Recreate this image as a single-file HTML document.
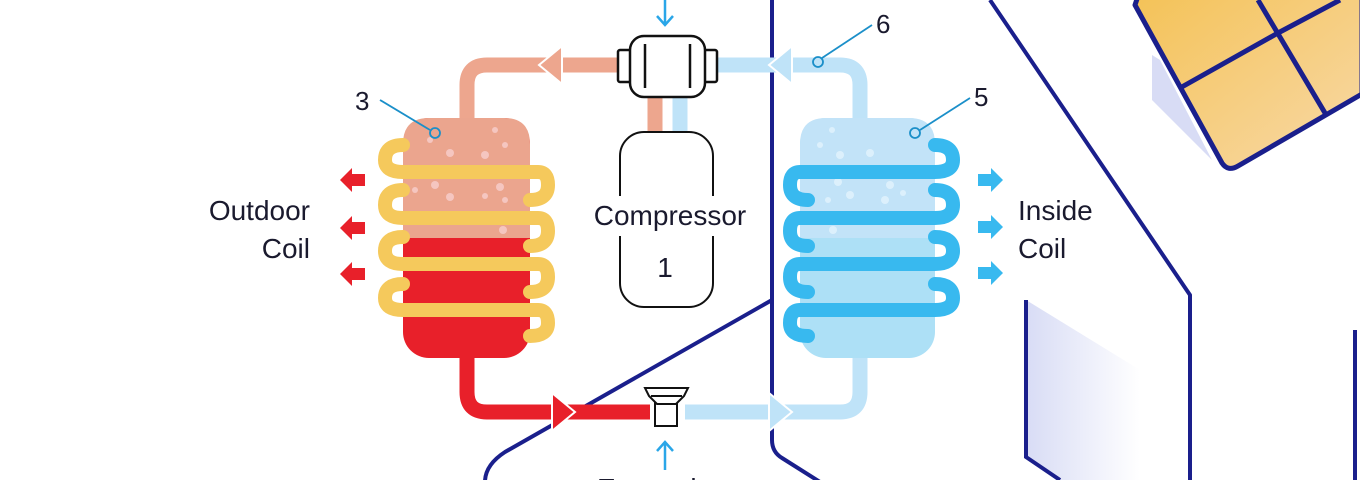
<!DOCTYPE html>
<html><head><meta charset="utf-8"><style>
html,body{margin:0;padding:0;background:#fff;width:1360px;height:480px;overflow:hidden}
text{font-family:"Liberation Sans",sans-serif;fill:#1a1a2e}
</style></head><body>
<svg width="1360" height="480" viewBox="0 0 1360 480" xmlns="http://www.w3.org/2000/svg">
<defs>
<linearGradient id="pg" x1="0" y1="0" x2="1" y2="0"><stop offset="0" stop-color="#d8dcf5"/><stop offset="1" stop-color="#fff"/></linearGradient>
<linearGradient id="sg" x1="0" y1="0" x2="1" y2="1"><stop offset="0" stop-color="#f4c256"/><stop offset="1" stop-color="#f8d9a8"/></linearGradient>
</defs>
<g fill="none" stroke="#1a1f8c" stroke-width="4" stroke-linejoin="round">
<path d="M772 0 V440 Q772 452 782 458 L820 482"/>
<path d="M772 300 L505 452 Q485 465 485 482"/>
<path d="M990 0 L1190 295 V482"/>
<path d="M1355 330 V482"/>
</g>
<path d="M1026 300 L1140 370 V480 L1060 480 L1026 457 Z" fill="url(#pg)"/>
<path d="M1026 300 V457 L1060 480" fill="none" stroke="#1a1f8c" stroke-width="4"/>
<polygon points="1152,55 1152,100 1212,160 1160,60" fill="#d8dcf5"/>
<path d="M1135 5 L1222 163 Q1228 172 1238 166 L1362 94 L1362 -10 L1140 -10 Z" fill="url(#sg)" stroke="#1a1f8c" stroke-width="5" stroke-linejoin="round"/>
<path d="M1258 0 L1325 113 M1180 88 L1278 33 L1340 0" stroke="#1a1f8c" stroke-width="5" fill="none"/>
<g fill="none" stroke-width="15" stroke-linejoin="round">
<path d="M467 120 V85 Q467 65 487 65 H620" stroke="#eda68e"/>
<path d="M717 65 H840 Q860 65 860 85 V120" stroke="#bfe3f8"/>
<path d="M655 98 V133" stroke="#eda68e"/>
<path d="M680 98 V133" stroke="#bfe3f8"/>
<path d="M467 355 V392 Q467 412 487 412 H650" stroke="#e8202a"/>
<path d="M685 412 H840 Q860 412 860 392 V355" stroke="#bfe3f8"/>
</g>
<polygon points="539,65 562,46 562,84" fill="#eda68e" stroke="#fff" stroke-width="2"/>
<polygon points="769,65 792,46 792,84" fill="#bfe3f8" stroke="#fff" stroke-width="2"/>
<polygon points="575,412 552,393 552,431" fill="#e8202a" stroke="#fff" stroke-width="2"/>
<polygon points="792,412 769,393 769,431" fill="#bfe3f8" stroke="#fff" stroke-width="2"/>
<rect x="403" y="118" width="127" height="240" rx="26" fill="#e8202a"/>
<path d="M403 238 V144 Q403 118 429 118 H504 Q530 118 530 144 V238 Z" fill="#eba58e"/>
<g fill="#f5c6c0"><circle cx="450" cy="153" r="4"/><circle cx="485" cy="155" r="4"/><circle cx="495" cy="130" r="3"/><circle cx="505" cy="145" r="3"/><circle cx="415" cy="190" r="3"/><circle cx="435" cy="185" r="4"/><circle cx="450" cy="197" r="4"/><circle cx="485" cy="196" r="3"/><circle cx="500" cy="187" r="4"/><circle cx="505" cy="200" r="3"/><circle cx="503" cy="230" r="4"/><circle cx="430" cy="140" r="3"/></g>
<g fill="none" stroke="#f5c95c" stroke-width="14" stroke-linecap="round">
<path d="M403 145 Q385 145 385 160 Q385 172 403 172 H538 Q548 172 548 185 Q548 200 530 200"/>
<path d="M403 190 Q385 190 385 205 Q385 218 403 218 H538 Q548 218 548 231 Q548 246 530 246"/>
<path d="M403 237 Q385 237 385 251 Q385 264 403 264 H538 Q548 264 548 277 Q548 292 530 292"/>
<path d="M403 284 Q385 284 385 298 Q385 310 403 310 H538 Q548 310 548 323 Q548 336 530 336"/>
</g>
<rect x="800" y="118" width="135" height="240" rx="26" fill="#ade0f6"/>
<path d="M800 238 V144 Q800 118 826 118 H909 Q935 118 935 144 V238 Z" fill="#c2e3f8"/>
<g fill="#dcf0fc"><circle cx="832" cy="130" r="3"/><circle cx="820" cy="145" r="3"/><circle cx="840" cy="155" r="4"/><circle cx="870" cy="153" r="4"/><circle cx="838" cy="182" r="4"/><circle cx="850" cy="195" r="4"/><circle cx="828" cy="200" r="3"/><circle cx="890" cy="185" r="4"/><circle cx="903" cy="193" r="3"/><circle cx="885" cy="200" r="4"/><circle cx="833" cy="230" r="4"/></g>
<g fill="none" stroke="#38b9ef" stroke-width="14" stroke-linecap="round">
<path d="M935 145 Q953 145 953 160 Q953 172 935 172 H800 Q790 172 790 185 Q790 200 808 200"/>
<path d="M935 190 Q953 190 953 205 Q953 218 935 218 H800 Q790 218 790 231 Q790 246 808 246"/>
<path d="M935 237 Q953 237 953 251 Q953 264 935 264 H800 Q790 264 790 277 Q790 292 808 292"/>
<path d="M935 284 Q953 284 953 298 Q953 310 935 310 H800 Q790 310 790 323 Q790 336 808 336"/>
</g>
<rect x="620" y="132" width="93" height="175" rx="24" fill="#fff" stroke="#111" stroke-width="2"/>
<rect x="600" y="196" width="150" height="40" fill="#fff"/>
<text x="670" y="225" font-size="28" text-anchor="middle">Compressor</text>
<text x="665" y="277" font-size="28" text-anchor="middle">1</text>
<g fill="#fff" stroke="#111" stroke-width="2.5">
<rect x="618" y="50" width="16" height="32" rx="2"/>
<rect x="701" y="50" width="16" height="32" rx="2"/>
<rect x="630" y="36" width="75" height="61" rx="14"/>
</g>
<path d="M645 44 V88 M690 44 V88" stroke="#111" stroke-width="2.5"/>
<g fill="#fff" stroke="#111" stroke-width="2">
<rect x="655" y="400" width="22" height="26"/>
<path d="M645 388 H688 L684 396 L676 404 H657 L649 396 Z"/>
<path d="M651 396 H682"/>
</g>
<g stroke="#2aa6e8" stroke-width="2.5" fill="none"><path d="M665 0 V24 M657 16 L665 25 L673 16"/><path d="M665 470 V443 M657 451 L665 442 L673 451"/></g>
<text x="597" y="498" font-size="28">Expansion</text>
<g fill="#e8202a"><path d="M340 180 L352 168 V174 H365 V186 H352 V192 Z"/><path d="M340 228 L352 216 V222 H365 V234 H352 V240 Z"/><path d="M340 274 L352 262 V268 H365 V280 H352 V286 Z"/></g>
<g fill="#38b9ef"><path d="M1003 180 L991 168 V174 H978 V186 H991 V192 Z"/><path d="M1003 227 L991 215 V221 H978 V233 H991 V239 Z"/><path d="M1003 273 L991 261 V267 H978 V279 H991 V285 Z"/></g>
<text x="310" y="220" font-size="28" text-anchor="end">Outdoor</text>
<text x="310" y="258" font-size="28" text-anchor="end">Coil</text>
<text x="1018" y="220" font-size="28">Inside</text>
<text x="1018" y="258" font-size="28">Coil</text>
<g stroke="#1b8fc9" stroke-width="1.8" fill="none"><path d="M380 100 L430 130"/><circle cx="435" cy="133" r="5"/><path d="M872 25 L822 58"/><circle cx="818" cy="62" r="5"/><path d="M970 98 L920 130"/><circle cx="915" cy="133" r="5"/></g>
<text x="355" y="110" font-size="26">3</text>
<text x="876" y="33" font-size="26">6</text>
<text x="974" y="106" font-size="26">5</text>
</svg>
</body></html>
